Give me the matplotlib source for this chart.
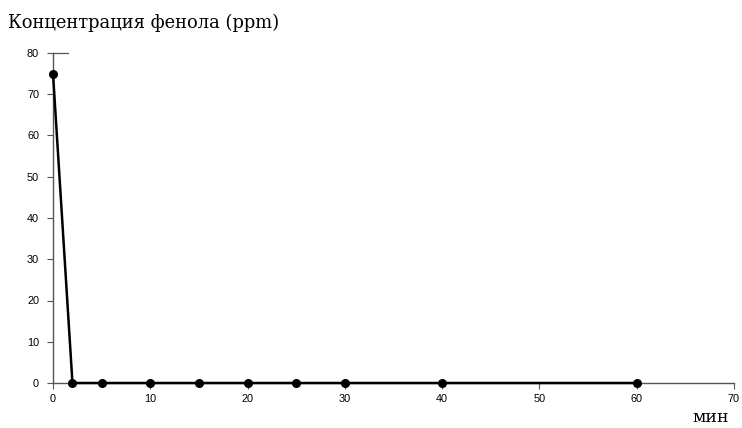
import matplotlib
matplotlib.use("Agg")
import matplotlib.pyplot as plt

time_min = [0, 2, 5, 10, 15, 20, 25, 30, 40, 60]
phenol_ppm = [75, 0, 0, 0, 0, 0, 0, 0, 0, 0]
xticks = [0, 10, 20, 30, 40, 50, 60, 70]
yticks = [0, 10, 20, 30, 40, 50, 60, 70, 80]

fig = plt.figure(figsize=(7.42, 4.28), dpi=100)
ax = fig.add_axes([53/742, 45/428, 681/742, 330/428])
ax.plot(time_min, phenol_ppm, color="black", lw=1.8, marker="o", ms=5.5,
        clip_on=False, zorder=3)
ax.set_xlim(0, 70)
ax.set_ylim(0, 80)
ax.set_xticks(xticks)
ax.set_yticks(yticks)
for s in ["top", "right"]:
    ax.spines[s].set_visible(False)
for s in ["left", "bottom"]:
    ax.spines[s].set_color("#555555")
    ax.spines[s].set_linewidth(1.0)
ax.tick_params(axis="both", direction="out", length=4, width=0.8, color="#555555",
               labelsize=7.8, labelcolor="black")
ax.tick_params(axis="y", pad=6)
ax.tick_params(axis="x", pad=4)
for lab in ax.get_xticklabels() + ax.get_yticklabels():
    lab.set_family(["Liberation Sans", "DejaVu Sans"])
# short stub at top of y axis
ax.plot([0, 1.55], [80, 80], color="#555555", lw=0.9, clip_on=False)

fig.text(8/742, 1 - 23/428, "Концентрация фенола (ppm)", ha="left", va="center",
         fontsize=12.9, family=["DejaVu Serif"])
fig.text(729/742, 1 - 418/428, "мин", ha="right", va="center",
         fontsize=12.5, family=["DejaVu Serif"])

fig.savefig("out.png", dpi=100)
